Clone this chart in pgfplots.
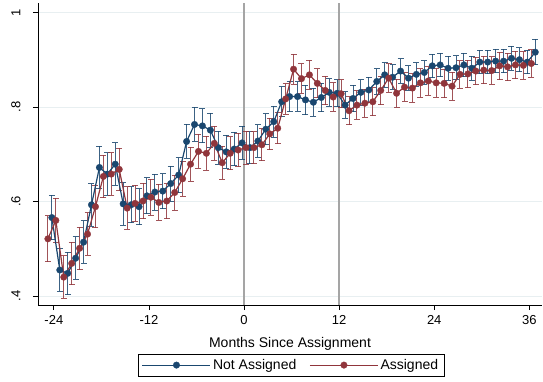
\documentclass[border=0pt]{standalone}
\usepackage{pgfplots}
\pgfplotsset{compat=1.18}
\usepackage{pgfplotstable}
\usepackage{fontspec}
\setmainfont{Liberation Sans}

\definecolor{navyS}{RGB}{26,71,111}
\definecolor{maroonS}{RGB}{144,53,59}
\definecolor{gridS}{RGB}{232,239,241}
\definecolor{refS}{RGB}{165,165,165}

% month, share, half-width of the 95% interval
\pgfplotstableread{
m   y     e
-24 0.566 0.047
-23 0.455 0.045
-22 0.448 0.045
-21 0.480 0.045
-20 0.514 0.045
-19 0.593 0.045
-18 0.672 0.045
-17 0.658 0.045
-16 0.679 0.045
-15 0.595 0.045
-14 0.593 0.038
-13 0.589 0.038
-12 0.612 0.038
-11 0.620 0.038
-10 0.622 0.037
-9  0.638 0.037
-8  0.656 0.037
-7  0.727 0.036
-6  0.763 0.036
-5  0.760 0.036
-4  0.751 0.036
-3  0.714 0.035
-2  0.705 0.035
-1  0.711 0.035
0   0.724 0.035
1   0.714 0.034
2   0.728 0.034
3   0.753 0.033
4   0.769 0.033
5   0.811 0.032
6   0.822 0.032
7   0.822 0.031
8   0.815 0.031
9   0.810 0.030
10  0.820 0.030
11  0.831 0.029
12  0.829 0.029
13  0.804 0.028
14  0.818 0.028
15  0.831 0.027
16  0.836 0.027
17  0.854 0.027
18  0.868 0.026
19  0.863 0.026
20  0.876 0.026
21  0.861 0.026
22  0.869 0.025
23  0.873 0.025
24  0.887 0.025
25  0.889 0.025
26  0.882 0.025
27  0.883 0.025
28  0.889 0.025
29  0.882 0.025
30  0.895 0.025
31  0.895 0.025
32  0.897 0.025
33  0.897 0.025
34  0.903 0.025
35  0.900 0.025
36  0.895 0.025
37  0.916 0.027
}\notassigned

\pgfplotstableread{
m   y     e
-25 0.521 0.049
-24 0.560 0.047
-23 0.440 0.045
-22 0.469 0.045
-21 0.501 0.045
-20 0.531 0.045
-19 0.589 0.045
-18 0.653 0.045
-17 0.658 0.045
-16 0.668 0.045
-15 0.586 0.045
-14 0.596 0.038
-13 0.601 0.038
-12 0.609 0.038
-11 0.598 0.038
-10 0.601 0.037
-9  0.619 0.037
-8  0.648 0.037
-7  0.679 0.036
-6  0.706 0.036
-5  0.702 0.036
-4  0.723 0.036
-3  0.682 0.035
-2  0.702 0.035
-1  0.709 0.035
0   0.714 0.035
1   0.714 0.034
2   0.720 0.034
3   0.743 0.033
4   0.755 0.033
5   0.817 0.032
6   0.880 0.032
7   0.860 0.031
8   0.868 0.031
9   0.850 0.031
10  0.835 0.030
11  0.821 0.030
12  0.828 0.030
13  0.792 0.030
14  0.804 0.030
15  0.808 0.030
16  0.811 0.030
17  0.835 0.030
18  0.861 0.030
19  0.829 0.030
20  0.842 0.030
21  0.840 0.030
22  0.851 0.030
23  0.855 0.030
24  0.851 0.030
25  0.850 0.030
26  0.844 0.030
27  0.869 0.029
28  0.870 0.029
29  0.876 0.029
30  0.878 0.029
31  0.877 0.029
32  0.887 0.029
33  0.885 0.029
34  0.889 0.029
35  0.888 0.029
36  0.892 0.029
}\assigned

\begin{document}
\begin{tikzpicture}
\begin{axis}[
  at={(38pt,76pt)}, anchor=south west,
  scale only axis, width=504pt, height=302pt,
  xmin=-26, xmax=37.6, ymin=0.381, ymax=1.02,
  axis lines=left, axis line style={-, line width=0.8pt},
  tick align=outside, major tick length=5pt,
  tick style={black, line width=0.8pt},
  xtick={-24,-12,0,12,24,36},
  xticklabels={-24,-12,0,12,24,36},
  ytick={0.4,0.6,0.8,1},
  yticklabels={.4,.6,.8,1},
  yticklabel style={rotate=90},
  yticklabel shift=9pt,
  xticklabel style={yshift=-2pt},
  ticklabel style={font=\fontsize{13}{15}\selectfont},
  ymajorgrids, grid style={gridS, line width=0.8pt},
  xlabel={Months Since Assignment},
  xlabel style={font=\fontsize{14}{16}\selectfont, yshift=-6pt},
  clip=false,
  legend style={at={(0.502,-0.199)}, anchor=center, draw=black, line width=0.6pt,
    font=\fontsize{14}{16}\selectfont, inner xsep=4pt, inner ysep=3pt,
    /tikz/every even column/.append style={column sep=11pt}},
  legend columns=2,
  legend image code/.code={%
    \draw[mark repeat=2, mark phase=2, #1] plot coordinates {(0pt,0pt) (34pt,0pt) (68pt,0pt)};},
]
% reference lines at assignment and one year later
\addplot[refS, line width=1.4pt, forget plot] coordinates {(0,0.381) (0,1.02)};
\addplot[refS, line width=1.4pt, forget plot] coordinates {(12,0.381) (12,1.02)};

% confidence intervals
\addplot[navyS, only marks, mark=none, forget plot,
  error bars/.cd, y dir=both, y explicit,
  error bar style={line width=1pt, opacity=0.85},
  error mark options={rotate=90, mark size=3pt, line width=1pt, opacity=0.85}]
  table[x expr=\thisrow{m}-0.25, y=y, y error=e] {\notassigned};
\addplot[maroonS, only marks, mark=none, forget plot,
  error bars/.cd, y dir=both, y explicit,
  error bar style={line width=1pt, opacity=0.85},
  error mark options={rotate=90, mark size=3pt, line width=1pt, opacity=0.85}]
  table[x expr=\thisrow{m}+0.25, y=y, y error=e] {\assigned};

% monthly means
\addplot[navyS, line width=1.2pt, mark=*, mark size=3.3pt, mark options={solid, fill=navyS, draw=navyS, line width=0.3pt}]
  table[x expr=\thisrow{m}-0.25, y=y] {\notassigned};
\addlegendentry{Not Assigned}
\addplot[maroonS, line width=1.2pt, mark=*, mark size=3.3pt, mark options={solid, fill=maroonS, draw=maroonS, line width=0.3pt}]
  table[x expr=\thisrow{m}+0.25, y=y] {\assigned};
\addlegendentry{Assigned}
\end{axis}
\pgfresetboundingbox
\useasboundingbox (0,0) rectangle (543pt,381pt);
\end{tikzpicture}
\end{document}
